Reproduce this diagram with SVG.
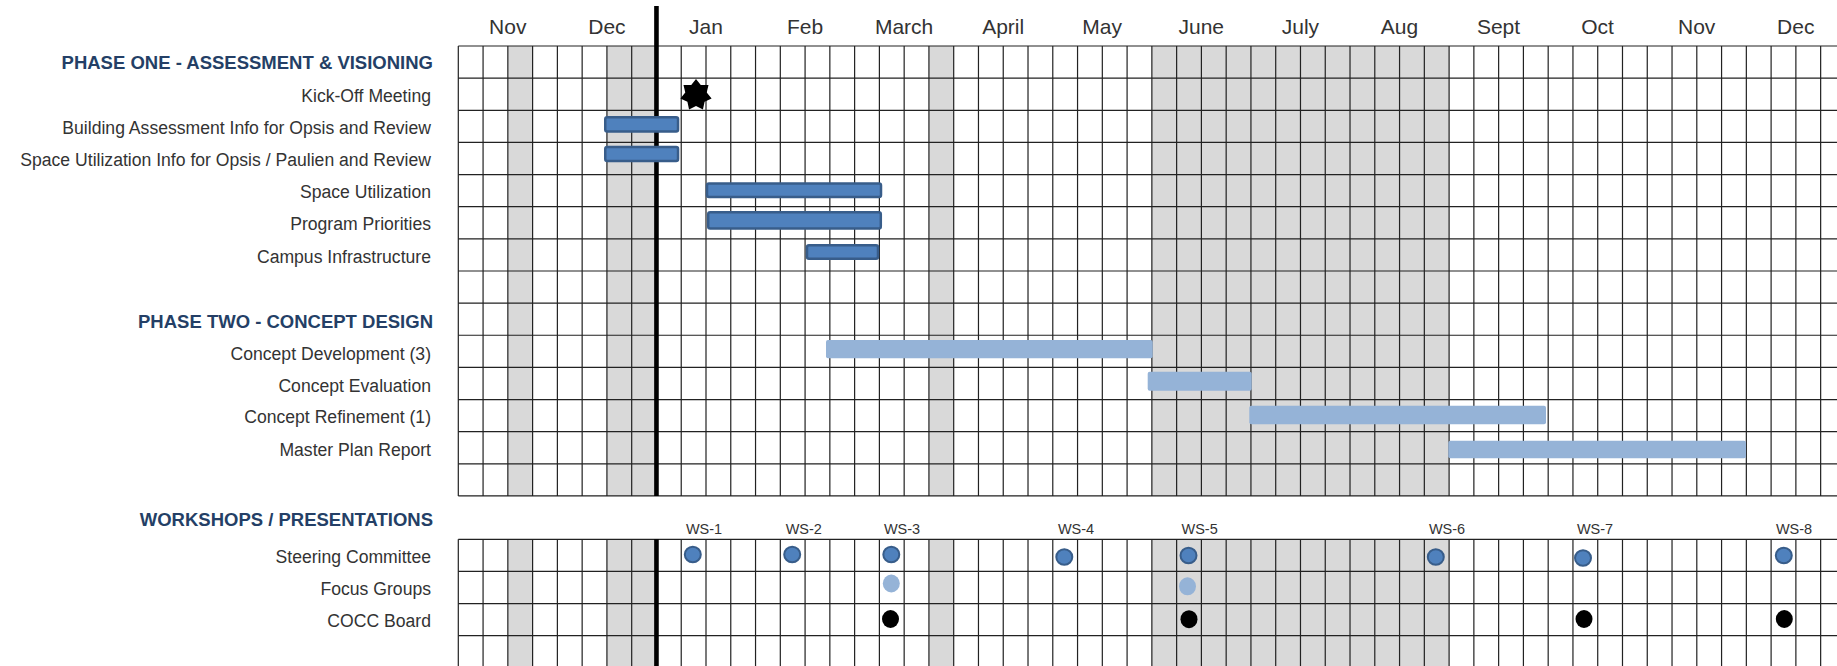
<svg xmlns="http://www.w3.org/2000/svg" xmlns:xlink="http://www.w3.org/1999/xlink" width="1837" height="666" viewBox="0 0 1837 666">
<style>
.month{font-family:"Liberation Sans",Arial,sans-serif;font-size:21px;fill:#333;text-anchor:middle}
.hdr{font-family:"Liberation Sans",Arial,sans-serif;font-size:18.5px;font-weight:bold;fill:#243F66;text-anchor:end}
.lbl{font-family:"Liberation Sans",Arial,sans-serif;font-size:17.6px;fill:#333;text-anchor:end}
.ws{font-family:"Liberation Sans",Arial,sans-serif;font-size:14.5px;fill:#333;text-anchor:middle}
.gray{fill:#D9D9D9}
.gl{stroke:#222;stroke-width:1.2;fill:none}
.dark{fill:#4F81BD;stroke:#385D8A;stroke-width:2.5}
.light{fill:#95B3D7}
.sc{fill:#4F81BD;stroke:#385D8A;stroke-width:2}
.fg{fill:#95B3D7}
.bd{fill:#000}
</style>
<defs>
<path id="vlines" class="gl" d="M458.3 46V496M483.07 46V496M507.84 46V496M532.61 46V496M557.38 46V496M582.15 46V496M606.92 46V496M631.69 46V496M681.23 46V496M706 46V496M730.77 46V496M755.54 46V496M780.31 46V496M805.08 46V496M829.85 46V496M854.62 46V496M879.39 46V496M904.16 46V496M928.93 46V496M953.7 46V496M978.47 46V496M1003.24 46V496M1028.01 46V496M1052.78 46V496M1077.55 46V496M1102.32 46V496M1127.09 46V496M1151.86 46V496M1176.63 46V496M1201.4 46V496M1226.17 46V496M1250.94 46V496M1275.71 46V496M1300.48 46V496M1325.25 46V496M1350.02 46V496M1374.79 46V496M1399.56 46V496M1424.33 46V496M1449.1 46V496M1473.87 46V496M1498.64 46V496M1523.41 46V496M1548.18 46V496M1572.95 46V496M1597.72 46V496M1622.49 46V496M1647.26 46V496M1672.03 46V496M1696.8 46V496M1721.57 46V496M1746.34 46V496M1771.11 46V496M1795.88 46V496M1820.65 46V496"/>
</defs>
<rect width="1837" height="666" fill="#fff"/>
<g id="grid">
<rect class="gray" x="507.84" y="46" width="24.77" height="450"/>
<rect class="gray" x="606.92" y="46" width="49.54" height="450"/>
<rect class="gray" x="928.93" y="46" width="24.77" height="450"/>
<rect class="gray" x="1151.86" y="46" width="297.24" height="450"/>
<rect class="gray" x="507.84" y="539.3" width="24.77" height="130"/>
<rect class="gray" x="606.92" y="539.3" width="49.54" height="130"/>
<rect class="gray" x="928.93" y="539.3" width="24.77" height="130"/>
<rect class="gray" x="1151.86" y="539.3" width="297.24" height="130"/>
<use xlink:href="#vlines"/>
<use xlink:href="#vlines" transform="translate(0,493.3)"/>
<path class="gl" d="M458.3 46H1837M458.3 78.14H1837M458.3 110.28H1837M458.3 142.42H1837M458.3 174.56H1837M458.3 206.7H1837M458.3 238.84H1837M458.3 270.98H1837M458.3 303.12H1837M458.3 335.26H1837M458.3 367.4H1837M458.3 399.54H1837M458.3 431.68H1837M458.3 463.82H1837M458.3 495.96H1837M458.3 539.3H1837M458.3 571.44H1837M458.3 603.58H1837M458.3 635.72H1837"/>
<path d="M656.46 6V496M656.46 539.3V666" stroke="#000" stroke-width="4.6" fill="none"/>
</g>
<g id="months">
<text class="month" x="507.8" y="34">Nov</text>
<text class="month" x="606.9" y="34">Dec</text>
<text class="month" x="706" y="34">Jan</text>
<text class="month" x="805" y="34">Feb</text>
<text class="month" x="904.1" y="34">March</text>
<text class="month" x="1003.2" y="34">April</text>
<text class="month" x="1102.2" y="34">May</text>
<text class="month" x="1201.3" y="34">June</text>
<text class="month" x="1300.4" y="34">July</text>
<text class="month" x="1399.5" y="34">Aug</text>
<text class="month" x="1498.5" y="34">Sept</text>
<text class="month" x="1597.6" y="34">Oct</text>
<text class="month" x="1696.7" y="34">Nov</text>
<text class="month" x="1795.8" y="34">Dec</text>
</g>
<g id="phase-one">
<text class="hdr" x="433" y="69.3">PHASE ONE - ASSESSMENT &amp; VISIONING</text>
</g>
<g id="kickoff">
<text class="lbl" x="431" y="102">Kick-Off Meeting</text>
<polygon fill="#000" points="696,79 700.77,85.09 708.51,85.02 706.72,92.55 711.6,98.56 704.6,101.86 702.94,109.42 696,106 689.06,109.42 687.4,101.86 680.4,98.56 685.28,92.55 683.49,85.02 691.23,85.09"/>
</g>
<g id="building-assessment">
<text class="lbl" x="431" y="133.5">Building Assessment Info for Opsis and Review</text>
<rect class="dark" x="605.25" y="117.25" width="72.8" height="14.2" rx="2"/>
</g>
<g id="space-util-info">
<text class="lbl" x="431" y="166">Space Utilization Info for Opsis / Paulien and Review</text>
<rect class="dark" x="605.25" y="147" width="72.8" height="14.1" rx="2"/>
</g>
<g id="space-utilization">
<text class="lbl" x="431" y="198.3">Space Utilization</text>
<rect class="dark" x="707" y="183.5" width="174" height="13.6" rx="2"/>
</g>
<g id="program-priorities">
<text class="lbl" x="431" y="230.3">Program Priorities</text>
<rect class="dark" x="708.2" y="212.2" width="172.6" height="16.3" rx="2" stroke-width="3"/>
</g>
<g id="campus-infrastructure">
<text class="lbl" x="431" y="262.5">Campus Infrastructure</text>
<rect class="dark" x="807" y="245.3" width="71" height="13.4" rx="2"/>
</g>
<g id="phase-two">
<text class="hdr" x="433" y="328.3">PHASE TWO - CONCEPT DESIGN</text>
</g>
<g id="concept-development">
<text class="lbl" x="431" y="359.5">Concept Development (3)</text>
<rect class="light" x="826" y="340" width="326.7" height="18.3" rx="2"/>
</g>
<g id="concept-evaluation">
<text class="lbl" x="431" y="391.5">Concept Evaluation</text>
<rect class="light" x="1147.7" y="371.7" width="104" height="19" rx="2"/>
</g>
<g id="concept-refinement">
<text class="lbl" x="431" y="423.3">Concept Refinement (1)</text>
<rect class="light" x="1249.3" y="405.7" width="296.7" height="18.6" rx="2"/>
</g>
<g id="master-plan-report">
<text class="lbl" x="431" y="455.6">Master Plan Report</text>
<rect class="light" x="1448.3" y="440.7" width="297.7" height="17.6" rx="2"/>
</g>
<g id="workshops">
<text class="hdr" x="433" y="526">WORKSHOPS / PRESENTATIONS</text>
<text class="ws" x="704" y="534">WS-1</text>
<text class="ws" x="803.8" y="534">WS-2</text>
<text class="ws" x="902" y="534">WS-3</text>
<text class="ws" x="1076" y="534">WS-4</text>
<text class="ws" x="1199.6" y="534">WS-5</text>
<text class="ws" x="1447" y="534">WS-6</text>
<text class="ws" x="1595" y="534">WS-7</text>
<text class="ws" x="1794" y="534">WS-8</text>
</g>
<g id="steering-committee">
<text class="lbl" x="431" y="563.3">Steering Committee</text>
<ellipse class="sc" cx="692.8" cy="554.5" rx="8" ry="7.8"/>
<ellipse class="sc" cx="792.2" cy="554.5" rx="8" ry="7.8"/>
<ellipse class="sc" cx="891.3" cy="554.5" rx="8" ry="7.8"/>
<ellipse class="sc" cx="1064.3" cy="557" rx="8" ry="7.8"/>
<ellipse class="sc" cx="1188.5" cy="555.5" rx="8" ry="7.8"/>
<ellipse class="sc" cx="1435.8" cy="557" rx="8" ry="7.8"/>
<ellipse class="sc" cx="1583" cy="558" rx="8" ry="7.8"/>
<ellipse class="sc" cx="1783.8" cy="555.5" rx="8" ry="7.8"/>
</g>
<g id="focus-groups">
<text class="lbl" x="431" y="594.5">Focus Groups</text>
<ellipse class="fg" cx="891.3" cy="583.5" rx="8.5" ry="9"/>
<ellipse class="fg" cx="1187.5" cy="586.3" rx="8.5" ry="9"/>
</g>
<g id="cocc-board">
<text class="lbl" x="431" y="626.7">COCC Board</text>
<ellipse class="bd" cx="890.5" cy="619" rx="8.5" ry="9"/>
<ellipse class="bd" cx="1189" cy="619.2" rx="8.5" ry="9"/>
<ellipse class="bd" cx="1584" cy="619" rx="8.5" ry="9"/>
<ellipse class="bd" cx="1784.3" cy="619" rx="8.5" ry="9"/>
</g>
</svg>
